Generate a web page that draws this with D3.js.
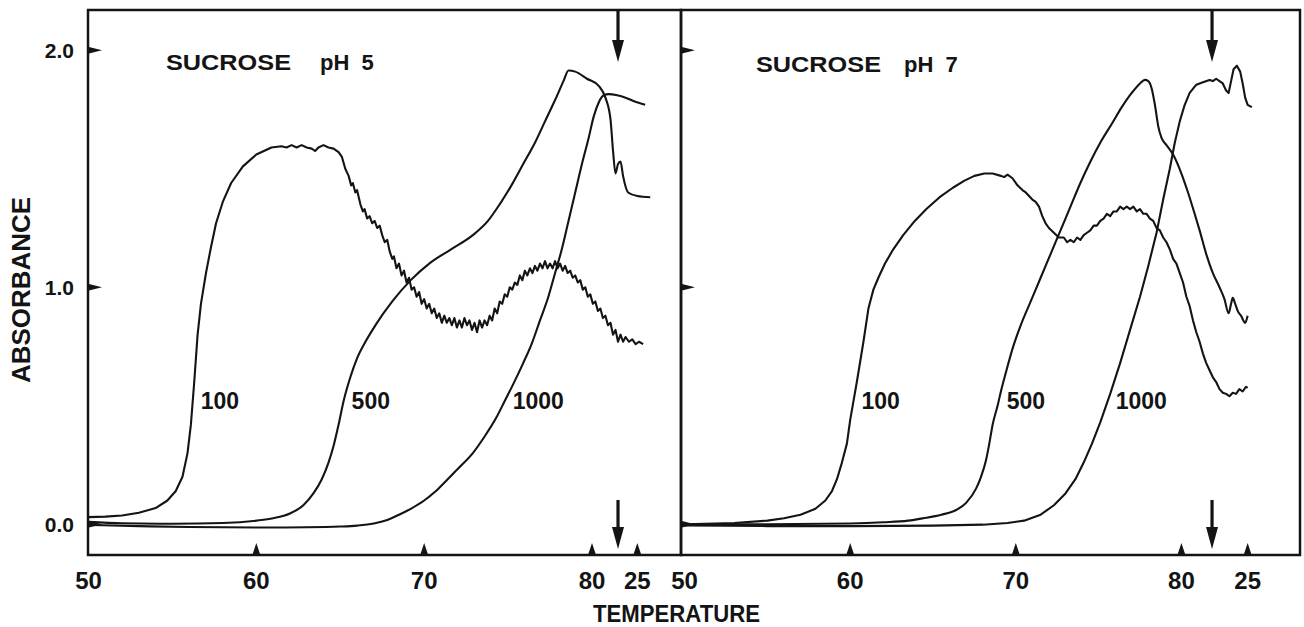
<!DOCTYPE html>
<html><head><meta charset="utf-8">
<script src="https://cdn.jsdelivr.net/npm/d3@7"></script>
<style>
body{margin:0;background:#fff}
svg{display:block}
text{font-family:"Liberation Sans",Arial,Helvetica,sans-serif;font-weight:bold;fill:#141414}
</style>
</head><body>
<svg id="chart" width="1304" height="627"></svg>
<script>
// ---------------- DATA ----------------
const panelTitles = ["SUCROSE", "SUCROSE"];
const panelPH = ["pH 5", "pH 7"];
const seriesNames = ["100", "500", "1000"];
const xTickValues = [50, 60, 70, 80];
const xTickLabels = ["50", "60", "70", "80"];
const returnTickLabel = "25";
const pH5ReturnPos = 82.7;   // run position of the "25" (cooled) reading, pH 5
const pH7ReturnPos = 84.0;   // run position of the "25" (cooled) reading, pH 7
const pH5ArrowPos = 81.55;   // end of heating, pH 5
const pH7ArrowPos = 81.85;   // end of heating, pH 7
const yTickValues = [0, 1, 2];
const yTickLabels = ["0.0", "1.0", "2.0"];
const labelLevel = 0.52;

// [run position (deg C while heating), absorbance]
const pH5_100 = [[50,0.03],[51,0.032],[52,0.037],[53,0.048],[54,0.068],[54.7,0.10],[55.2,0.14],[55.6,0.2],[55.9,0.3],[56.1,0.42],[56.3,0.6],[56.5,0.8],[56.7,0.93],[57.0,1.06],[57.3,1.17],[57.6,1.27],[58.0,1.36],[58.5,1.44],[59.2,1.51],[60.0,1.56],[60.9,1.59],[61.5,1.595],[61.8,1.59],[62.1,1.6],[62.4,1.59],[62.7,1.6],[63.0,1.59],[63.3,1.585],[63.5,1.575],[63.7,1.59],[64.0,1.6],[64.3,1.59],[64.6,1.585],[64.9,1.57],[65.1,1.55],[65.3,1.50],[65.5,1.47],[65.65,1.43],[65.75,1.44],[65.9,1.40],[66.0,1.41],[66.2,1.35],[66.35,1.32],[66.45,1.33],[66.6,1.29],[66.75,1.30],[66.9,1.27],[67.05,1.28],[67.2,1.25],[67.35,1.26],[67.5,1.22],[67.65,1.19],[67.8,1.20],[67.95,1.15],[68.1,1.12],[68.2,1.13],[68.35,1.08],[68.5,1.10],[68.65,1.05],[68.8,1.07],[68.95,1.02],[69.1,1.04],[69.25,0.99],[69.4,1.00],[69.55,0.96],[69.7,0.98],[69.85,0.93],[70.0,0.95],[70.15,0.91],[70.3,0.93],[70.45,0.89],[70.6,0.91],[70.75,0.87],[70.9,0.89],[71.05,0.85],[71.2,0.88],[71.35,0.85],[71.5,0.87],[71.65,0.84],[71.8,0.87],[71.95,0.83],[72.1,0.86],[72.25,0.83],[72.4,0.87],[72.55,0.84],[72.7,0.86],[72.85,0.82],[73.0,0.85],[73.15,0.81],[73.3,0.86],[73.45,0.83],[73.6,0.86],[73.75,0.84],[73.9,0.88],[74.05,0.86],[74.2,0.91],[74.35,0.89],[74.5,0.94],[74.65,0.93],[74.8,0.97],[74.95,0.96],[75.1,1.00],[75.25,0.99],[75.4,1.02],[75.55,1.01],[75.7,1.05],[75.85,1.03],[76.0,1.07],[76.15,1.05],[76.3,1.08],[76.45,1.06],[76.6,1.09],[76.75,1.07],[76.9,1.10],[77.05,1.08],[77.2,1.11],[77.35,1.08],[77.5,1.10],[77.65,1.08],[77.8,1.11],[77.95,1.08],[78.1,1.10],[78.25,1.07],[78.4,1.09],[78.55,1.06],[78.7,1.07],[78.85,1.04],[79.0,1.05],[79.15,1.02],[79.3,1.03],[79.45,0.99],[79.6,1.00],[79.75,0.96],[79.9,0.97],[80.05,0.93],[80.2,0.94],[80.35,0.90],[80.5,0.91],[80.65,0.87],[80.8,0.88],[80.95,0.84],[81.1,0.85],[81.25,0.80],[81.4,0.82],[81.55,0.77],[81.7,0.80],[81.85,0.77],[82.0,0.79],[82.2,0.77],[82.4,0.78],[82.6,0.76],[82.8,0.77],[83.05,0.76]];
const pH5_500 = [[50,0.01],[52,0.004],[55,0.002],[58,0.005],[60,0.015],[61,0.025],[62,0.045],[62.8,0.08],[63.4,0.13],[63.9,0.19],[64.3,0.26],[64.6,0.33],[64.9,0.42],[65.2,0.52],[65.6,0.62],[66.0,0.70],[66.5,0.77],[67.1,0.84],[68.1,0.94],[69.2,1.03],[70.3,1.10],[71.6,1.16],[72.9,1.22],[73.8,1.28],[74.5,1.35],[75.2,1.43],[75.9,1.52],[76.6,1.61],[77.2,1.70],[77.8,1.79],[78.3,1.87],[78.6,1.915],[79.0,1.91],[79.7,1.88],[80.4,1.85],[80.8,1.80],[81.1,1.71],[81.26,1.57],[81.4,1.48],[81.55,1.52],[81.7,1.53],[81.85,1.47],[82.15,1.40],[82.7,1.385],[83.47,1.38]];
const pH5_1000 = [[50,-0.003],[53,-0.008],[56,-0.012],[60,-0.014],[63,-0.013],[65,-0.01],[66,-0.006],[67,0.003],[67.8,0.018],[68.5,0.04],[69.2,0.065],[70.0,0.10],[70.7,0.14],[71.4,0.19],[72.1,0.24],[72.9,0.30],[73.6,0.37],[74.3,0.45],[74.8,0.52],[75.3,0.59],[75.9,0.68],[76.4,0.76],[76.9,0.86],[77.4,0.96],[77.8,1.06],[78.2,1.16],[78.6,1.28],[79.0,1.40],[79.4,1.52],[79.8,1.63],[80.1,1.72],[80.4,1.78],[80.7,1.81],[81.0,1.815],[81.5,1.81],[82.0,1.80],[82.5,1.785],[83.17,1.77]];

const pH7_100 = [[50,0.0],[53,0.005],[55,0.015],[56,0.025],[57,0.04],[57.9,0.065],[58.5,0.10],[58.9,0.14],[59.2,0.19],[59.5,0.26],[59.8,0.34],[60.0,0.44],[60.4,0.60],[60.8,0.77],[61.1,0.91],[61.4,0.99],[61.7,1.04],[62.1,1.10],[62.6,1.16],[63.2,1.22],[63.9,1.28],[64.6,1.33],[65.4,1.38],[66.2,1.42],[66.9,1.45],[67.5,1.47],[68.1,1.48],[68.6,1.48],[69.1,1.47],[69.3,1.465],[69.5,1.475],[69.8,1.46],[70.1,1.43],[70.4,1.41],[70.6,1.40],[70.8,1.385],[71.0,1.37],[71.2,1.36],[71.4,1.34],[71.6,1.30],[71.8,1.27],[72.0,1.25],[72.3,1.23],[72.6,1.21],[72.9,1.21],[73.1,1.19],[73.3,1.20],[73.5,1.19],[73.7,1.21],[73.9,1.20],[74.1,1.22],[74.3,1.23],[74.5,1.24],[74.7,1.26],[74.9,1.26],[75.1,1.28],[75.3,1.29],[75.5,1.31],[75.7,1.30],[75.9,1.32],[76.1,1.32],[76.3,1.34],[76.5,1.33],[76.7,1.34],[76.9,1.33],[77.1,1.34],[77.3,1.32],[77.5,1.33],[77.7,1.31],[77.9,1.31],[78.1,1.29],[78.3,1.28],[78.5,1.25],[78.7,1.24],[78.9,1.21],[79.1,1.19],[79.3,1.16],[79.5,1.12],[79.7,1.10],[79.9,1.06],[80.1,1.02],[80.3,0.96],[80.5,0.92],[80.7,0.86],[80.9,0.81],[81.1,0.77],[81.3,0.72],[81.5,0.68],[81.7,0.65],[81.9,0.62],[82.1,0.60],[82.3,0.57],[82.5,0.555],[82.7,0.55],[82.9,0.54],[83.1,0.555],[83.3,0.55],[83.5,0.57],[83.7,0.56],[83.9,0.58],[84.0,0.575]];
const pH7_500 = [[50,0.0],[55,0.0],[60,0.003],[62,0.008],[63.5,0.015],[64.4,0.025],[65.5,0.04],[66.4,0.06],[67.0,0.09],[67.6,0.15],[67.9,0.20],[68.2,0.27],[68.4,0.34],[68.6,0.42],[68.9,0.50],[69.1,0.56],[69.4,0.64],[69.8,0.74],[70.3,0.84],[70.9,0.94],[71.5,1.04],[72.1,1.14],[72.7,1.24],[73.3,1.34],[73.9,1.44],[74.5,1.53],[75.1,1.61],[75.8,1.69],[76.4,1.76],[77.0,1.82],[77.5,1.86],[77.8,1.875],[78.0,1.87],[78.2,1.84],[78.4,1.77],[78.6,1.68],[78.8,1.63],[79.1,1.60],[79.5,1.56],[80.0,1.48],[80.4,1.40],[80.8,1.31],[81.1,1.24],[81.5,1.14],[81.9,1.06],[82.3,1.00],[82.6,0.95],[82.85,0.89],[83.0,0.93],[83.1,0.955],[83.25,0.93],[83.4,0.90],[83.6,0.88],[83.85,0.85],[84.0,0.88]];
const pH7_1000 = [[50,-0.005],[55,-0.008],[60,-0.008],[65,-0.006],[68,-0.002],[69.5,0.005],[70.5,0.015],[71.5,0.04],[72.3,0.08],[73.0,0.13],[73.6,0.19],[74.1,0.26],[74.6,0.34],[75.1,0.43],[75.7,0.55],[76.3,0.68],[76.9,0.82],[77.5,0.96],[78.0,1.09],[78.5,1.23],[78.9,1.37],[79.3,1.50],[79.6,1.61],[79.9,1.70],[80.2,1.77],[80.5,1.82],[80.9,1.855],[81.3,1.865],[81.7,1.875],[81.9,1.87],[82.1,1.88],[82.3,1.87],[82.5,1.86],[82.7,1.83],[82.85,1.82],[83.0,1.87],[83.15,1.92],[83.35,1.935],[83.55,1.91],[83.7,1.86],[83.85,1.80],[84.0,1.77],[84.25,1.76]];

// ---------------- LAYOUT ----------------
const svg = d3.select("#chart");
const INK = "#141414";
const frameTop = 10, frameBottom = 555;
const y = d3.scaleLinear().domain([0, 2]).range([524.2, 50.3]);

const panels = [
  { x: d3.scaleLinear().domain([50, 80]).range([88.5, 592]), left: 88, right: 681,
    series: [pH5_100, pH5_500, pH5_1000], noisy: [true, false, false],
    ret: pH5ReturnPos, arrow: pH5ArrowPos, title: panelTitles[0], ph: panelPH[0],
    titleX: 166, phX: 320, titleY: 70, yLabels: true },
  { x: d3.scaleLinear().domain([50, 80]).range([684.6, 1181.4]), left: 681, right: 1300,
    series: [pH7_100, pH7_500, pH7_1000], noisy: [true, false, true],
    ret: pH7ReturnPos, arrow: pH7ArrowPos, title: panelTitles[1], ph: panelPH[1],
    titleX: 756, phX: 904, titleY: 72, yLabels: false }
];

function crossing(data, level) {
  for (let i = 1; i < data.length; i++) {
    const [t0, v0] = data[i - 1], [t1, v1] = data[i];
    if (v0 < level && v1 >= level) return t0 + (level - v0) / (v1 - v0) * (t1 - t0);
  }
  return data[0][0];
}

panels.forEach(p => {
  const g = svg.append("g");
  const x = p.x;

  // curves
  p.series.forEach((data, i) => {
    const line = d3.line().x(d => x(d[0])).y(d => y(d[1]))
      .curve(p.noisy[i] ? d3.curveLinear : d3.curveMonotoneX);
    g.append("path").attr("d", line(data)).attr("fill", "none")
      .attr("stroke", INK).attr("stroke-width", 2.1).attr("stroke-linejoin", "round");
    const tc = crossing(data, labelLevel);
    g.append("text").attr("x", x(tc) + 8).attr("y", y(labelLevel) + 8)
      .attr("font-size", 23).text(seriesNames[i]);
  });

  // frame
  g.append("rect").attr("x", p.left).attr("y", frameTop)
    .attr("width", p.right - p.left).attr("height", frameBottom - frameTop)
    .attr("fill", "none").attr("stroke", INK).attr("stroke-width", 2.5);

  // x ticks (triangles) and labels
  const tickPos = xTickValues.concat([p.ret]);
  const tickLab = xTickLabels.concat([returnTickLabel]);
  tickPos.forEach((t, i) => {
    const px = x(t);
    if (px > p.left + 8) {
      g.append("path").attr("d", `M${px - 4},${frameBottom} L${px},${frameBottom - 12} L${px + 4},${frameBottom} Z`)
        .attr("fill", INK);
    }
    g.append("text").attr("x", px).attr("y", 589).attr("text-anchor", "middle")
      .attr("font-size", 24).text(tickLab[i]);
  });

  // y ticks (flags pointing right)
  yTickValues.forEach((v, i) => {
    const py = y(v);
    g.append("path").attr("d", `M${p.left},${py - 3.5} L${p.left + 14},${py} L${p.left},${py + 3.5} Z`).attr("fill", INK);
    if (p.yLabels) {
      g.append("text").attr("x", 74).attr("y", py + 7.5).attr("text-anchor", "end")
        .attr("font-size", 21).text(yTickLabels[i]);
    }
  });

  // arrows marking end of heating
  const ax = x(p.arrow);
  [[frameTop, 62], [500, 549]].forEach(([y0, y1]) => {
    g.append("line").attr("x1", ax).attr("x2", ax).attr("y1", y0).attr("y2", y1 - 18)
      .attr("stroke", INK).attr("stroke-width", 3.2);
    g.append("path").attr("d", `M${ax - 6},${y1 - 22} L${ax + 6},${y1 - 22} L${ax},${y1} Z`).attr("fill", INK);
  });

  // panel title
  g.append("text").attr("x", p.titleX).attr("y", p.titleY).attr("font-size", 22)
    .attr("textLength", 125).attr("lengthAdjust", "spacingAndGlyphs").text(p.title);
  g.append("text").attr("x", p.phX).attr("y", p.titleY).attr("font-size", 22)
    .attr("word-spacing", 6).text(p.ph);
});

// axis titles
svg.append("text").attr("transform", "translate(30,290) rotate(-90)")
  .attr("text-anchor", "middle").attr("font-size", 25)
  .attr("textLength", 186).attr("lengthAdjust", "spacingAndGlyphs").text("ABSORBANCE");
svg.append("text").attr("x", 593).attr("y", 622).attr("font-size", 23)
  .attr("textLength", 167).attr("lengthAdjust", "spacingAndGlyphs").text("TEMPERATURE");
</script>
</body></html>
